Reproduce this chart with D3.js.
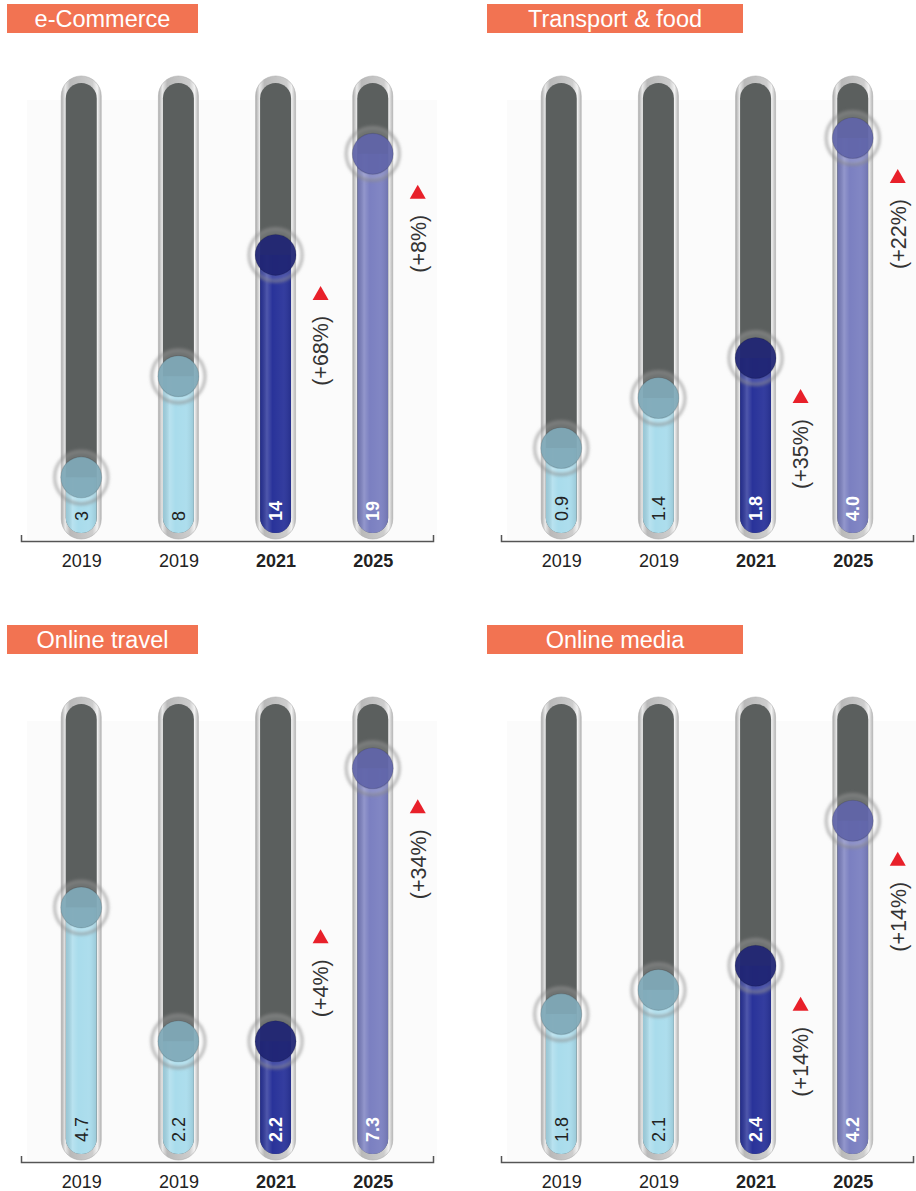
<!DOCTYPE html>
<html>
<head>
<meta charset="utf-8">
<script src="https://cdn.jsdelivr.net/npm/d3@7"></script>
<style>
  body { margin: 0; background: #fff; }
  svg { display: block; font-family: "Liberation Sans", Arial, Helvetica, sans-serif; }
</style>
</head>
<body>
<svg id="chart" width="916" height="1191"></svg>
<script>
// ---- data ----
const titles = ["e-Commerce", "Transport & food", "Online travel", "Online media"];
const years = ["2019", "2019", "2021", "2025"];

const eCommerce     = [3, 8, 14, 19];
const transportFood = [0.9, 1.4, 1.8, 4.0];
const onlineTravel  = [4.7, 2.2, 2.2, 7.3];
const onlineMedia   = [1.8, 2.1, 2.4, 4.2];

const eCommerceChange     = [null, null, 68, 8];
const transportFoodChange = [null, null, 35, 22];
const onlineTravelChange  = [null, null, 4, 34];
const onlineMediaChange   = [null, null, 14, 14];

const scaleMax = [22.5, 4.55, 8.5, 5.65];
const valueFormats = ["d", ".1f", ".1f", ".1f"];

const seriesValues = [eCommerce, transportFood, onlineTravel, onlineMedia];
const seriesChanges = [eCommerceChange, transportFoodChange, onlineTravelChange, onlineMediaChange];

// ---- styling ----
const fillColors  = ["#a9dcec", "#a9dcec", "#29339a", "#7b80c1"];
const bulbColors  = ["#7fa9b8", "#7fa9b8", "#1e2473", "#6064a9"];
const labelColors = ["#222", "#222", "#fff", "#fff"];
const titleColor = "#f27352";
const tubeColor = "#5b5f5e";

const layout = {
  colStep: 480, rowStep: 621,
  titleX: 7, titleY: 4, titleH: 29, titleW: [191, 256],
  axisX0: 21, axisX1: 433, axisY: 541,
  fillBottom: 538, innerTop: 83,
  outerTop: 76, outerBottom: 539, outerHalf: 20,
  innerHalf: 15.5, innerBottom: 533,
  bulbR: 20.5, valueLabelY: 521
};

const svg = d3.select("#chart");
const defs = svg.append("defs");

// glass tube rim
const tg = defs.append("linearGradient").attr("id", "tubeGrad").attr("x1", 0).attr("x2", 1).attr("y1", 0).attr("y2", 0);
[["0%", "#a9a9a9"], ["10%", "#e9e9e9"], ["22%", "#b9b9b9"], ["78%", "#cdcdcd"], ["90%", "#f2f2f2"], ["100%", "#b5b5b5"]]
  .forEach(([o, c]) => tg.append("stop").attr("offset", o).attr("stop-color", c));

// subtle vertical sheen on the liquid
const sg = defs.append("linearGradient").attr("id", "sheen").attr("x1", 0).attr("x2", 1).attr("y1", 0).attr("y2", 0);
[["0%", "#000", 0.10], ["22%", "#fff", 0.18], ["40%", "#fff", 0.0], ["75%", "#fff", 0.05], ["100%", "#000", 0.10]]
  .forEach(([o, c, a]) => sg.append("stop").attr("offset", o).attr("stop-color", c).attr("stop-opacity", a));

defs.append("filter").attr("id", "soft").attr("x", "-50%").attr("y", "-50%").attr("width", "200%").attr("height", "200%")
  .append("feGaussianBlur").attr("stdDeviation", 1.8);

defs.append("clipPath").attr("id", "innerClip")
  .append("rect")
  .attr("x", -layout.innerHalf).attr("y", layout.innerTop)
  .attr("width", layout.innerHalf * 2).attr("height", layout.innerBottom - layout.innerTop)
  .attr("rx", layout.innerHalf);

titles.forEach((title, i) => {
  const values = seriesValues[i];
  const changes = seriesChanges[i];
  const col = i % 2, row = Math.floor(i / 2);
  const g = svg.append("g").attr("transform", `translate(${col * layout.colStep},${row * layout.rowStep})`);

  // faint plot backdrop
  g.append("rect").attr("x", 27).attr("y", 100).attr("width", 410).attr("height", 440).attr("fill", "#fbfbfb");

  // title box
  const tw = layout.titleW[col];
  g.append("rect").attr("x", layout.titleX).attr("y", layout.titleY)
    .attr("width", tw).attr("height", layout.titleH).attr("fill", titleColor);
  g.append("text").attr("x", layout.titleX + tw / 2).attr("y", layout.titleY + 23)
    .attr("text-anchor", "middle").attr("font-size", 23.5).attr("fill", "#fff").text(title);

  const x = d3.scalePoint().domain(d3.range(years.length)).range([layout.axisX0, layout.axisX1]).padding(0.62);
  const y = d3.scaleLinear().domain([0, scaleMax[i]]).range([layout.fillBottom, layout.innerTop]);
  const fmt = d3.format(valueFormats[i]);

  // axis
  const axis = d3.axisBottom(x).tickSizeInner(0).tickSizeOuter(-6).tickPadding(13).tickFormat(j => years[j]);
  const ag = g.append("g").attr("transform", `translate(0,${layout.axisY})`).call(axis)
    .attr("font-family", null).attr("font-size", null);
  ag.select(".domain").attr("stroke", "#555").attr("stroke-width", 1.5);
  ag.selectAll(".tick text").attr("font-size", 18).attr("fill", "#222")
    .attr("font-weight", j => j >= 2 ? "bold" : "normal");

  const bars = g.selectAll("g.bar").data(values).join("g").attr("class", "bar")
    .attr("transform", (d, j) => `translate(${x(j)},0)`);

  // glass tube
  bars.append("rect")
    .attr("x", -layout.outerHalf).attr("y", layout.outerTop)
    .attr("width", layout.outerHalf * 2).attr("height", layout.outerBottom - layout.outerTop)
    .attr("rx", layout.outerHalf).attr("fill", "url(#tubeGrad)")
    .attr("stroke", "#b0b0b0").attr("stroke-width", 0.6);
  bars.append("rect")
    .attr("x", -layout.innerHalf).attr("y", layout.innerTop)
    .attr("width", layout.innerHalf * 2).attr("height", layout.innerBottom - layout.innerTop)
    .attr("rx", layout.innerHalf).attr("fill", tubeColor);

  // liquid level
  const liquid = bars.append("g").attr("clip-path", "url(#innerClip)");
  liquid.append("rect")
    .attr("x", -layout.innerHalf).attr("y", d => y(d))
    .attr("width", layout.innerHalf * 2).attr("height", d => layout.fillBottom - y(d))
    .attr("fill", (d, j) => fillColors[j]);
  liquid.append("rect")
    .attr("x", -layout.innerHalf).attr("y", d => y(d))
    .attr("width", layout.innerHalf * 2).attr("height", d => layout.fillBottom - y(d))
    .attr("fill", "url(#sheen)");

  // bulb at the level
  bars.append("circle").attr("cx", 0).attr("cy", d => y(d)).attr("r", 26.5)
    .attr("fill", "#fff").attr("fill-opacity", 0.12)
    .attr("stroke", "#8d8d8d").attr("stroke-opacity", 0.55).attr("stroke-width", 3.4)
    .attr("filter", "url(#soft)");
  bars.append("circle").attr("cx", 0).attr("cy", d => y(d)).attr("r", layout.bulbR)
    .attr("fill", (d, j) => bulbColors[j]).attr("fill-opacity", 0.93)
    .attr("stroke", "#000").attr("stroke-opacity", 0.12).attr("stroke-width", 1.2);

  // value labels
  bars.append("text")
    .attr("transform", `translate(0,${layout.valueLabelY}) rotate(-90)`)
    .attr("dy", "0.36em").attr("text-anchor", "start")
    .attr("font-size", 18)
    .attr("font-weight", (d, j) => j >= 2 ? "bold" : "normal")
    .attr("fill", (d, j) => labelColors[j])
    .text(d => fmt(d));

  // growth markers
  bars.each(function (d, j) {
    const c = changes[j];
    if (c == null) return;
    const b = d3.select(this);
    const lx = 45;
    const label = b.append("text").attr("font-size", 21.5).attr("fill", "#333")
      .attr("text-anchor", "end").attr("dy", "0.36em").text(`(+${c}%)`);
    const len = label.node().getComputedTextLength();
    let ty = y(d) + 38;
    if (ty + 22 + len > layout.fillBottom - 10) ty = y(d) - 25 - len - 22;
    label.attr("transform", `translate(${lx},${ty + 23}) rotate(-90)`);
    b.append("path")
      .attr("d", `M${lx - 8},${ty + 7}L${lx + 8},${ty + 7}L${lx},${ty - 7}Z`)
      .attr("fill", "#e8202a");
  });
});
</script>
</body>
</html>
